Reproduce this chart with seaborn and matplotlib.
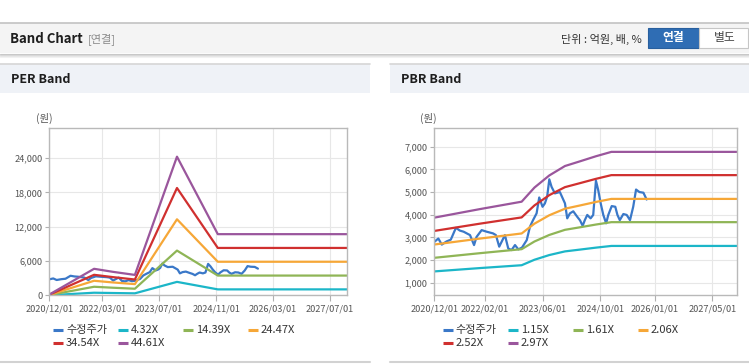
import numpy as np
import pandas as pd
import matplotlib
matplotlib.use('Agg')
import matplotlib.pyplot as plt
import matplotlib.dates as mdates
from matplotlib.patches import Rectangle
from matplotlib.ticker import FuncFormatter
import seaborn as sns

# ---------------- data ----------------
price_dates = [
    "2020-12-01", "2021-01-04", "2021-02-02", "2021-03-14", "2021-04-19", "2021-06-01",
    "2021-07-04", "2021-08-05", "2021-09-01", "2021-09-28", "2021-11-01", "2021-11-22",
    "2022-01-04", "2022-02-15", "2022-04-10", "2022-05-04", "2022-06-01", "2022-07-19",
    "2022-08-16", "2022-09-13", "2022-10-12", "2022-11-09", "2022-12-10", "2023-01-19",
    "2023-02-15", "2023-03-13", "2023-04-12", "2023-05-04", "2023-06-01", "2023-06-21",
    "2023-07-10", "2023-07-28", "2023-08-16", "2023-09-13", "2023-10-25", "2023-12-07",
    "2023-12-26", "2024-01-18", "2024-02-15", "2024-03-19", "2024-04-12", "2024-05-04",
    "2024-05-23", "2024-06-12", "2024-07-10", "2024-08-01", "2024-08-24", "2024-09-12",
    "2024-10-03", "2024-10-25", "2024-11-18", "2024-12-06", "2025-01-04", "2025-02-03",
    "2025-02-21", "2025-03-13", "2025-04-12", "2025-05-10", "2025-06-07", "2025-07-04",
    "2025-07-28", "2025-08-25", "2025-09-28", "2025-10-25",
]
price_values = [
    2800, 2950, 2680, 2820, 2900, 3420,
    3300, 3250, 3175, 3100, 2660, 3020,
    3320, 3250, 3175, 3100, 2590, 3100,
    2510, 2440, 2660, 2470, 2550, 2880,
    3470, 3760, 4060, 4760, 4350, 4500,
    4800, 5560, 5230, 4940, 5000, 4500,
    3840, 4060, 4150, 3910, 3750, 3510,
    3770, 3990, 3840, 3990, 5500, 5090,
    4500, 3990, 3620, 3990, 4380, 4350,
    3990, 3760, 4030, 3990, 3760, 4350,
    5110, 5000, 4970, 4670,
]

per_dates = ["2020-12-01", "2021-12-20", "2022-06-01", "2022-12-05", "2023-12-01", "2024-11-15", "2027-11-28"]
per_4_32 = [15, 450, 400, 345, 2350, 1037, 1037]
per_14_39 = [45, 1495, 1325, 1150, 7830, 3455, 3455]
per_24_47 = [75, 2545, 2250, 1960, 13310, 5875, 5875]
per_34_54 = [105, 3590, 3180, 2765, 18790, 8290, 8290]
per_44_61 = [135, 4640, 4105, 3570, 24270, 10705, 10705]
per_labels = ["수정주가", "4.32X", "14.39X", "24.47X", "34.54X", "44.61X"]
per_yticks = [0, 6000, 12000, 18000, 24000]
per_xticks = ["2020-12-01", "2022-03-01", "2023-07-01", "2024-11-01", "2026-03-01", "2027-07-01"]

pbr_dates = ["2020-12-01", "2021-12-20", "2022-12-07", "2023-03-25", "2023-07-28", "2023-12-07",
             "2024-04-12", "2024-08-24", "2025-01-01", "2027-11-23"]
pbr_1_15 = [1498, 1645, 1771, 2013, 2220, 2381, 2461, 2547, 2622, 2622]
pbr_1_61 = [2098, 2302, 2479, 2818, 3107, 3333, 3445, 3566, 3671, 3671]
pbr_2_06 = [2684, 2946, 3172, 3605, 3976, 4264, 4408, 4563, 4697, 4697]
pbr_2_52 = [3284, 3604, 3881, 4410, 4864, 5216, 5393, 5582, 5746, 5746]
pbr_2_97 = [3870, 4247, 4574, 5198, 5732, 6148, 6356, 6579, 6772, 6772]
pbr_labels = ["수정주가", "1.15X", "1.61X", "2.06X", "2.52X", "2.97X"]
pbr_yticks = [1000, 2000, 3000, 4000, 5000, 6000, 7000]
pbr_xticks = ["2020-12-01", "2022-02-01", "2023-06-01", "2024-10-01", "2026-01-01", "2027-05-01"]

colors = ["#3a78c8", "#1cb6c8", "#8fb556", "#f6a737", "#d0302f", "#9a569c"]

# ---------------- style ----------------
sns.set_style("white")
plt.rcParams['font.family'] = ['Noto Sans CJK KR', 'DejaVu Sans']

W, H = 749, 364
fig = plt.figure(figsize=(W / 100, H / 100), dpi=100)
bg = fig.add_axes([0, 0, 1, 1], zorder=0)
bg.set_xlim(0, W)
bg.set_ylim(H, 0)
bg.axis('off')

# header
bg.add_patch(Rectangle((0, 22.5), W, 30.5, fc='#f4f4f4', ec='none'))
bg.plot([0, W], [22.5, 22.5], color='#c2c2c2', lw=1.2)
for i, c in enumerate(['#c8c8c8', '#d8d8d8', '#e6e6e6', '#f1f1f1']):
    bg.plot([0, W], [53.5 + i, 53.5 + i], color=c, lw=0.8)
bg.text(10, 39, "Band Chart", fontsize=9.5, fontweight='bold', color='#1e1e1e', va='center', ha='left')
bg.text(88, 39.5, "[연결]", fontsize=8, color='#8a8a8a', va='center', ha='left')
bg.text(642, 39.5, "단위 : 억원, 배, %", fontsize=8, color='#333333', va='center', ha='right')
bg.add_patch(Rectangle((648, 28), 51, 19.5, fc='#2f6db4', ec='#285f9e', lw=0.8))
bg.text(673.5, 38, "연결", fontsize=8.5, fontweight='bold', color='white', va='center', ha='center')
bg.add_patch(Rectangle((699, 28), 49, 19.5, fc='white', ec='#c6c6c6', lw=0.8))
bg.text(725, 38, "별도", fontsize=8.5, color='#444444', va='center', ha='center')

# panels
for x0, x1, title in [(0, 370, "PER Band"), (390, 749, "PBR Band")]:
    bg.add_patch(Rectangle((x0, 64), x1 - x0, 29, fc='#eff2f7', ec='none'))
    bg.plot([x0, x1], [64, 64], color='#d6d6d6', lw=1.2)
    bg.plot([x0, x1], [362, 362], color='#d2d2d2', lw=1.5)
    bg.text(x0 + 11, 79.5, title, fontsize=9, fontweight='bold', color='#1e1e1e', va='center', ha='left')


def px_axes(l, t, r, b):
    return fig.add_axes([l / W, 1 - b / H, (r - l) / W, (b - t) / H], zorder=1)


def draw_panel(ax, band_dates, bands, xticks, yticks, ylim, xlim):
    sns.lineplot(x=pd.to_datetime(price_dates), y=price_values, ax=ax, color=colors[0],
                 lw=1.6, estimator=None, sort=False)
    for vals, c in zip(bands, colors[1:]):
        sns.lineplot(x=pd.to_datetime(band_dates), y=vals, ax=ax, color=c,
                     lw=1.6, estimator=None, sort=False)
    ax.set_xlim(mdates.date2num(pd.to_datetime(xlim[0])), mdates.date2num(pd.to_datetime(xlim[1])))
    ax.set_ylim(*ylim)
    ax.set_xticks(mdates.date2num(pd.to_datetime(xticks)))
    ax.xaxis.set_major_formatter(mdates.DateFormatter('%Y/%m/%d'))
    ax.set_yticks(yticks)
    ax.yaxis.set_major_formatter(FuncFormatter(lambda v, p: f"{int(v):,}"))
    ax.set_xlabel('')
    ax.set_ylabel('')
    ax.grid(True, color='#e7e7e7', lw=0.8)
    ax.set_axisbelow(True)
    for s in ax.spines.values():
        s.set_color('#b9b9b9')
        s.set_linewidth(1.0)
    ax.tick_params(axis='x', direction='out', length=4, width=0.8, color='#b0b0b0',
                   labelsize=6.6, labelcolor='#555555', pad=2.5, bottom=True)
    ax.tick_params(axis='y', direction='out', length=3, width=0.8, color='#b0b0b0',
                   labelsize=6.6, labelcolor='#555555', pad=2, left=True)


ax1 = px_axes(49.3, 128.3, 347, 295.3)
draw_panel(ax1, per_dates, [per_4_32, per_14_39, per_24_47, per_34_54, per_44_61],
           per_xticks, per_yticks, (0, 29240), ("2020-12-01", "2027-11-28"))
ax2 = px_axes(434.3, 128.3, 736.7, 295.3)
draw_panel(ax2, pbr_dates, [pbr_1_15, pbr_1_61, pbr_2_06, pbr_2_52, pbr_2_97],
           pbr_xticks, pbr_yticks, (444, 7812), ("2020-12-01", "2027-11-23"))

bg.text(44, 118, "(원)", fontsize=7.5, color='#555555', va='center', ha='center')
bg.text(428, 118, "(원)", fontsize=7.5, color='#555555', va='center', ha='center')

# legends
for x0, labels in [(53, per_labels), (442.7, pbr_labels)]:
    for i, (lab, c) in enumerate(zip(labels, colors)):
        row, col = divmod(i, 4)
        x = x0 + col * 65
        y = 330 + row * 13.3
        bg.plot([x, x + 10], [y, y], color=c, lw=2.2, solid_capstyle='butt')
        bg.text(x + 13, y, lab, fontsize=8, color='#333333', va='center', ha='left')

fig.savefig('out.png', dpi=100)
